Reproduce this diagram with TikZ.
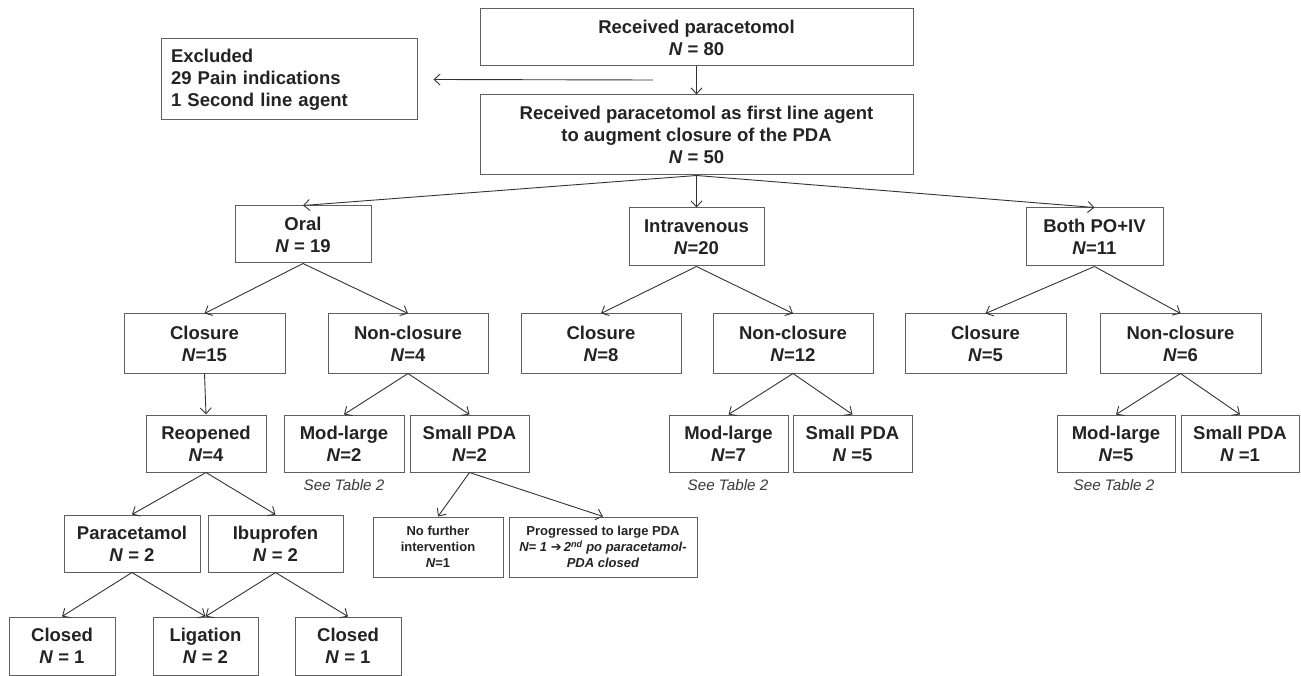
\documentclass[tikz,border=0pt]{standalone}
\usepackage{fontspec}
\setmainfont{Liberation Sans}
\newfontfamily\arrowfont{DejaVu Sans}
\usetikzlibrary{arrows.meta}
\definecolor{boxline}{RGB}{95,95,95}
\definecolor{flowtext}{RGB}{35,35,35}
\newcommand{\Nit}{\textit{N}}

\begin{document}
\begin{tikzpicture}[x=1pt, y=-1pt,
  every node/.style={font=\fontsize{18.5}{22}\selectfont\bfseries, text=flowtext},
  wh/.style 2 args={minimum width=#1pt, minimum height=#2pt},
  box/.style={draw=boxline, line width=1pt, align=center, inner sep=0pt},
  smallbox/.style={box, font=\fontsize{13}{16}\selectfont\bfseries},
  note/.style={font=\fontsize{15.2}{18}\selectfont\itshape, text=flowtext!90},
  arr/.style={-{Straight Barb[length=6pt,width=11pt]}, line width=0.9pt, draw=black!80}]
\useasboundingbox (0,0) rectangle (1301,676);

% Top
\node[box, wh={433}{57}] (recv) at (696.5,37.5) {Received paracetomol\\\Nit{} = 80};
\node[box, wh={256}{81}, align=left, text width=236pt] (excl) at (289,79.5) {Excluded\\29 Pain indications\\1 Second line agent};
\node[box, wh={433}{80}] (first) at (696.5,135) {Received paracetomol as first line agent\\to augment closure of the PDA\\\Nit{} = 50};

% Route
\node[box, wh={136}{57}] (oral) at (303,234.5) {Oral\\\Nit{} = 19};
\node[box, wh={135}{58}] (iv) at (696.5,237) {Intravenous\\\Nit{}=20};
\node[box, wh={137}{58}] (both) at (1094.5,237) {Both PO+IV\\\Nit{}=11};

% Closure / non-closure
\node[box, wh={161}{59}] (oclos) at (204.5,343.5) {Closure\\\Nit{}=15};
\node[box, wh={160}{59}] (onon) at (408,343.5) {Non-closure\\\Nit{}=4};
\node[box, wh={160}{59}] (iclos) at (601,343.5) {Closure\\\Nit{}=8};
\node[box, wh={160}{59}] (inon) at (793,343.5) {Non-closure\\\Nit{}=12};
\node[box, wh={161}{59}] (bclos) at (985.5,343.5) {Closure\\\Nit{}=5};
\node[box, wh={161}{59}] (bnon) at (1180.5,343.5) {Non-closure\\\Nit{}=6};

% PDA size
\node[box, wh={120}{57}] (reop) at (206,443.5) {Reopened\\\Nit{}=4};
\node[box, wh={120}{57}] (omod) at (344,443.5) {Mod-large\\\Nit{}=2};
\node[box, wh={119}{57}] (osmall) at (469.5,443.5) {Small PDA\\\Nit{}=2};
\node[box, wh={119}{57}] (imod) at (728.5,443.5) {Mod-large\\\Nit{}=7};
\node[box, wh={119}{57}] (ismall) at (852.5,443.5) {Small PDA\\\Nit{} =5};
\node[box, wh={118}{57}] (bmod) at (1116,443.5) {Mod-large\\\Nit{}=5};
\node[box, wh={118}{57}] (bsmall) at (1240,443.5) {Small PDA\\\Nit{} =1};
\node[note] (omodnote) at (344,485) {See Table 2};
\node[note] (imodnote) at (728,485) {See Table 2};
\node[note] (bmodnote) at (1114,485) {See Table 2};

% Second course
\node[box, wh={136}{57}] (para) at (132,543.5) {Paracetamol\\\Nit{} = 2};
\node[box, wh={135}{57}] (ibu) at (275.5,543.5) {Ibuprofen\\\Nit{} = 2};
\node[smallbox, wh={130}{60}] (nofur) at (438,547) {No further\\intervention\\\Nit{}=1};
\node[smallbox, wh={188}{60}] (prog) at (603,547) {Progressed to large PDA\\\textit{\Nit{}= 1 {\arrowfont ➔}\,2\textsuperscript{nd} po paracetamol-}\\\textit{PDA closed}};

% Outcome
\node[box, wh={106}{58}] (closed1) at (62,646) {Closed\\\Nit{} = 1};
\node[box, wh={105}{58}] (lig) at (205.5,646) {Ligation\\\Nit{} = 2};
\node[box, wh={106}{58}] (closed2) at (348,646) {Closed\\\Nit{} = 1};

% Arrows
\coordinate (exstart) at (653,80);
\draw[arr] (exstart) -- ([xshift=16pt]excl.east);
\draw[arr] (recv.south) -- (first.north);
\foreach \a/\b in {first/oral, first/iv, first/both, oral/oclos, oral/onon, iv/iclos, iv/inon,
  both/bclos, both/bnon, oclos/reop, onon/omod, onon/osmall, inon/imod, inon/ismall,
  bnon/bmod, bnon/bsmall, reop/para, reop/ibu, osmall/nofur, osmall/prog,
  para/closed1, para/lig, ibu/lig, ibu/closed2}
  \draw[arr] (\a.south) -- (\b.north);
\end{tikzpicture}
\end{document}
